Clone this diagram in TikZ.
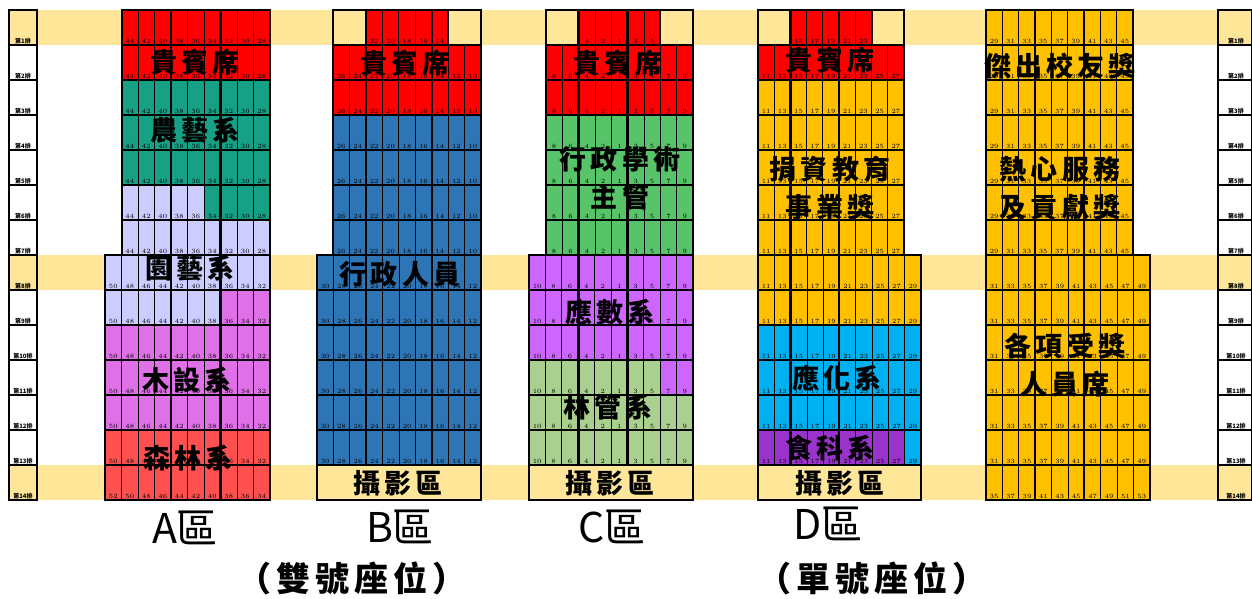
\documentclass[tikz,border=0pt]{standalone}
\usepackage{fontspec}
\newfontfamily\cjk{Noto Sans CJK TC}
\newfontfamily\cjkspaced[LetterSpace=15]{Noto Sans CJK TC}

\definecolor{bandyellow}{RGB}{255,230,153}
\definecolor{vipred}{RGB}{255,0,0}
\definecolor{agroteal}{RGB}{22,160,133}
\definecolor{hortlav}{RGB}{204,204,255}
\definecolor{woodpink}{RGB}{224,112,232}
\definecolor{forestsalmon}{RGB}{255,80,80}
\definecolor{staffblue}{RGB}{46,117,182}
\definecolor{chiefgreen}{RGB}{88,196,106}
\definecolor{mathpurple}{RGB}{204,102,255}
\definecolor{mgmtgreen}{RGB}{169,208,142}
\definecolor{awardorange}{RGB}{255,192,0}
\definecolor{chemcyan}{RGB}{0,176,240}
\definecolor{foodpurple}{RGB}{153,51,204}

\tikzset{
  seatline/.style={draw=black, line width=0.4pt},
  rowline/.style={draw=black, line width=1pt},
  aisleline/.style={draw=black, line width=1.1pt},
  seatnum/.style={font=\fontsize{3.2}{3.2}\selectfont, inner sep=0pt, anchor=south},
  rowtag/.style={font=\cjk\bfseries\fontsize{3}{3}\selectfont, inner sep=0pt, anchor=south},
  grouptag/.style={font=\cjkspaced\bfseries\fontsize{13.5}{19}\selectfont, inner sep=0pt, align=center},
  zonetag/.style={font=\cjk\fontsize{20.5}{20.5}\selectfont, inner sep=0pt},
  paritytag/.style={font=\cjkspaced\bfseries\fontsize{17}{17}\selectfont, inner sep=0pt},
}

% one block of seat rows: name, left x, seat width, first row, last row, seats, numbers
\newcommand{\seatblock}[7]{%
  \foreach \r in {#4,...,#5}{
    \foreach [count=\c] \n in {#7}{
      \draw[seatline] ({#2+(\c-1)*#3},{35*\r-25}) rectangle ({#2+\c*#3},{35*\r+10});
      \node[seatnum] (#1-\r-\c) at ({#2+(\c-0.5)*#3},{35*\r+9}) {\n};
    }
    \draw[rowline] (#2,{35*\r-25}) rectangle ({#2+#6*#3},{35*\r+10});
  }
}

\begin{document}
\begin{tikzpicture}[x=0.5pt,y=0.5pt,yscale=-1,xscale=1]
\useasboundingbox (0,0) rectangle (1252,599);

%Shape: Rectangle [bands of rows 1, 8, 14]
\fill[bandyellow] (9,10) rectangle (1252,45);
\fill[bandyellow] (9,255) rectangle (1252,290);
\fill[bandyellow] (9,465) rectangle (1252,500);

%Shape: Rectangle [zone A colours]
\fill[vipred] (121.5,10) rectangle (270,80);
\fill[agroteal] (121.5,80) rectangle (270,185);
\fill[agroteal] (204,185) rectangle (270,220);
\fill[hortlav] (121.5,185) rectangle (204,220);
\fill[hortlav] (121.5,220) rectangle (270,255);
\fill[hortlav] (105,255) rectangle (270,290);
\fill[hortlav] (105,290) rectangle (220.5,325);
\fill[woodpink] (220.5,290) rectangle (270,325);
\fill[woodpink] (105,325) rectangle (270,430);
\fill[forestsalmon] (105,430) rectangle (270,500);

%Shape: Rectangle [zone B colours]
\fill[vipred] (365.9,10) rectangle (448.25,45);
\fill[vipred] (333,45) rectangle (481,115);
\fill[staffblue] (333,115) rectangle (481,255);
\fill[staffblue] (317,255) rectangle (481,465);

%Shape: Rectangle [zone C colours]
\fill[vipred] (578.7,10) rectangle (660.3,45);
\fill[vipred] (546,45) rectangle (693,115);
\fill[chiefgreen] (546,115) rectangle (693,255);
\fill[mathpurple] (529,255) rectangle (693,360);
\fill[mathpurple] (660.2,360) rectangle (693,395);
\fill[mgmtgreen] (529,360) rectangle (660.2,395);
\fill[mgmtgreen] (529,395) rectangle (693,465);

%Shape: Rectangle [zone D colours]
\fill[vipred] (790.4,10) rectangle (871.6,45);
\fill[vipred] (758,45) rectangle (904,80);
\fill[awardorange] (758,80) rectangle (904,255);
\fill[awardorange] (758,255) rectangle (921,325);
\fill[chemcyan] (758,325) rectangle (921,430);
\fill[foodpurple] (758,430) rectangle (904.7,465);
\fill[chemcyan] (904.7,430) rectangle (921,465);

%Shape: Rectangle [zone E colours]
\fill[awardorange] (986,10) rectangle (1133,255);
\fill[awardorange] (986,255) rectangle (1150,500);

%Seats: zone A
\seatblock{A}{121.5}{16.5}{1}{7}{9}{44,42,40,38,36,34,32,30,28}
\seatblock{A}{105}{16.5}{8}{13}{10}{50,48,46,44,42,40,38,36,34,32}
\seatblock{A}{105}{16.5}{14}{14}{10}{52,50,48,46,44,42,40,38,36,34}
%Seats: zone B
\seatblock{B}{365.9}{16.45}{1}{1}{5}{22,20,18,16,14}
\seatblock{B}{333}{16.45}{2}{7}{9}{26,24,22,20,18,16,14,12,10}
\seatblock{B}{317}{16.4}{8}{13}{10}{30,28,26,24,22,20,18,16,14,12}
\draw[rowline] (333,10) rectangle (365.9,45);
\draw[rowline] (448.25,10) rectangle (481,45);
%Seats: zone C
\seatblock{C}{578.7}{16.33}{1}{1}{5}{4,2,1,3,5}
\seatblock{C}{546}{16.33}{2}{7}{9}{8,6,4,2,1,3,5,7,9}
\seatblock{C}{529}{16.4}{8}{13}{10}{10,8,6,4,2,1,3,5,7,9}
\draw[rowline] (546,10) rectangle (578.7,45);
\draw[rowline] (660.3,10) rectangle (693,45);
%Seats: zone D
\seatblock{D}{790.4}{16.22}{1}{1}{5}{15,17,19,21,23}
\seatblock{D}{758}{16.22}{2}{7}{9}{11,13,...,27}
\seatblock{D}{758}{16.3}{8}{13}{10}{11,13,...,29}
\draw[rowline] (758,10) rectangle (790.4,45);
\draw[rowline] (871.6,10) rectangle (904,45);
%Seats: zone E
\seatblock{E}{986}{16.33}{1}{7}{9}{29,31,...,45}
\seatblock{E}{986}{16.4}{8}{13}{10}{31,33,...,49}
\seatblock{E}{986}{16.4}{14}{14}{10}{35,37,...,53}

%Straight Lines [aisles]
\draw[aisleline] (171,10) -- (171,500);
\draw[aisleline] (220.5,10) -- (220.5,500);
\draw[aisleline] (366,10) -- (366,465);
\draw[aisleline] (431.8,10) -- (431.8,465);
\draw[aisleline] (578.5,10) -- (578.5,465);
\draw[aisleline] (627.5,10) -- (627.5,465);
\draw[aisleline] (790.5,10) -- (790.5,465);
\draw[aisleline] (839.3,10) -- (839.3,465);
\draw[aisleline] (1035,10) -- (1035,500);
\draw[aisleline] (1084,10) -- (1084,500);

%Shape: Rectangle [photo areas]
\draw[rowline, fill=bandyellow] (317,465) rectangle (481,500);
\draw[rowline, fill=bandyellow] (529,465) rectangle (693,500);
\draw[rowline, fill=bandyellow] (758,465) rectangle (921,500);

%Row tags, both sides
\foreach \r in {1,...,14}{
  \draw[rowline] (9,{35*\r-25}) rectangle (37,{35*\r+10});
  \node[rowtag] (lefttag-\r) at (23,{35*\r+9}) {第\r 排};
  \draw[rowline] (1218,{35*\r-25}) -- (1251.5,{35*\r-25}) -- (1251.5,{35*\r+10}) -- (1218,{35*\r+10}) -- cycle;
  \node[rowtag] (righttag-\r) at (1236,{35*\r+9}) {第\r 排};
}

% Text Node
\node[grouptag] (vipA) at (195,62) {貴賓席};
\node[grouptag] (agro) at (195,130) {農藝系};
\node[grouptag] (hort) at (190,268) {園藝系};
\node[grouptag] (wood) at (187,380) {木設系};
\node[grouptag] (forest) at (188,458) {森林系};
\node[grouptag] (vipB) at (405,63) {貴賓席};
\node[grouptag] (staff) at (400,274) {行政人員};
\node[grouptag] (photoB) at (398,483) {攝影區};
\node[grouptag] (vipC) at (618,63) {貴賓席};
\node[grouptag] (chief) at (620,178) {行政學術\\主管};
\node[grouptag] (math) at (610,312) {應數系};
\node[grouptag] (mgmt) at (608,407) {林管系};
\node[grouptag] (photoC) at (610,483) {攝影區};
\node[grouptag] (vipD) at (830,60) {貴賓席};
\node[grouptag] (donor) at (830,188) {捐資教育\\事業獎};
\node[grouptag] (chem) at (837,378) {應化系};
\node[grouptag] (food) at (830,448) {食科系};
\node[grouptag] (photoD) at (840,483) {攝影區};
\node[grouptag] (alumni) at (1060,66) {傑出校友獎};
\node[grouptag] (service) at (1060,188) {熱心服務\\及貢獻獎};
\node[grouptag] (winners) at (1065,365) {各項受獎\\人員席};

% Text Node
\node[zonetag] (zoneA) at (185,528) {A區};
\node[zonetag] (zoneB) at (400,527) {B區};
\node[zonetag] (zoneC) at (612,527) {C區};
\node[zonetag] (zoneD) at (828,524) {D區};
\node[paritytag] (even) at (352,578) {（雙號座位）};
\node[paritytag] (odd) at (872,578) {（單號座位）};

\end{tikzpicture}
\end{document}
